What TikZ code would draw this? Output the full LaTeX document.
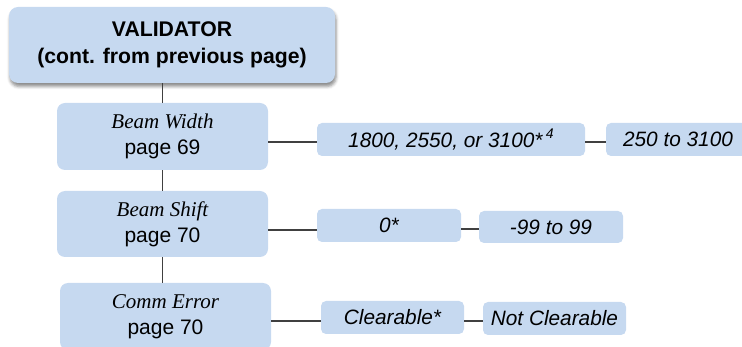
\documentclass[tikz,border=0pt]{standalone}
\usepackage{fontspec}
\setmainfont{Liberation Sans}
\newfontfamily\tnr{Liberation Serif}
\usetikzlibrary{shadows.blur}
\definecolor{boxblue}{RGB}{198,217,240}
\definecolor{linegray}{RGB}{64,64,64}
\tikzset{
  bigbox/.style={fill=boxblue, draw=none, rounded corners=8pt, inner sep=0pt,
    minimum width=211pt, minimum height=67pt, align=center,
    font=\fontsize{21}{26}\selectfont},
  valbox/.style={fill=boxblue, draw=none, rounded corners=5pt, inner sep=0pt,
    minimum width=144pt, minimum height=33pt,
    font=\fontsize{20.8}{24}\selectfont\itshape},
  conn/.style={draw=linegray, line width=1.1pt}
}
\begin{document}
\begin{tikzpicture}[x=1pt,y=-1pt]
\useasboundingbox (0,0) rectangle (742,347);
% top box
\node[bigbox, minimum width=326pt, minimum height=76pt, rounded corners=9pt,
  font=\fontsize{21.2}{27.5}\selectfont\bfseries,
  blur shadow={shadow xshift=1pt, shadow yshift=-3.5pt, shadow blur radius=3pt, shadow opacity=45}]
  (top) at (172,45) {VALIDATOR\\(cont. from previous page)};
% menu boxes
\node[bigbox] (bw) at (162.5,136.5) {{\tnr\itshape Beam Width}\\page 69};
\node[bigbox, minimum height=66pt] (bs) at (162.5,224) {{\tnr\itshape Beam Shift}\\page 70};
\node[bigbox] (ce) at (165.5,316.5) {{\tnr\itshape Comm Error}\\page 70};
% value boxes
\node[valbox, minimum width=268pt] (r1a) at (451,139.5) {1800, 2550, or 3100*\,\raisebox{0.75ex}{\fontsize{14}{16}\selectfont 4}};
\node[valbox] (r1b) at (678,139.5) {250 to 3100};
\node[valbox] (r2a) at (389,225.5) {0*};
\node[valbox, minimum height=32pt] (r2b) at (551,227) {-99 to 99};
\node[valbox, minimum width=143pt] (r3a) at (392.5,317.5) {Clearable*};
\node[valbox, minimum width=143pt] (r3b) at (554.5,318.5) {Not Clearable};
% line levels
\coordinate (l1) at (0,142);
\coordinate (l2) at (0,230);
\coordinate (l2b) at (0,229);
\coordinate (l3) at (0,321);
% vertical connectors
\draw[conn] (top.south -| bw.north) -- (bw.north);
\draw[conn] (bw.south) -- (bs.north);
\draw[conn] (bs.south) -- (ce.north -| bs.south);
% horizontal connectors
\draw[conn] (bw.east |- l1) -- (r1a.west |- l1);
\draw[conn] (r1a.east |- l1) -- (r1b.west |- l1);
\draw[conn] (bs.east |- l2) -- (r2a.west |- l2);
\draw[conn] (r2a.east |- l2b) -- (r2b.west |- l2b);
\draw[conn] (ce.east |- l3) -- (r3a.west |- l3);
\draw[conn] (r3a.east |- l3) -- (r3b.west |- l3);
\end{tikzpicture}
\end{document}
